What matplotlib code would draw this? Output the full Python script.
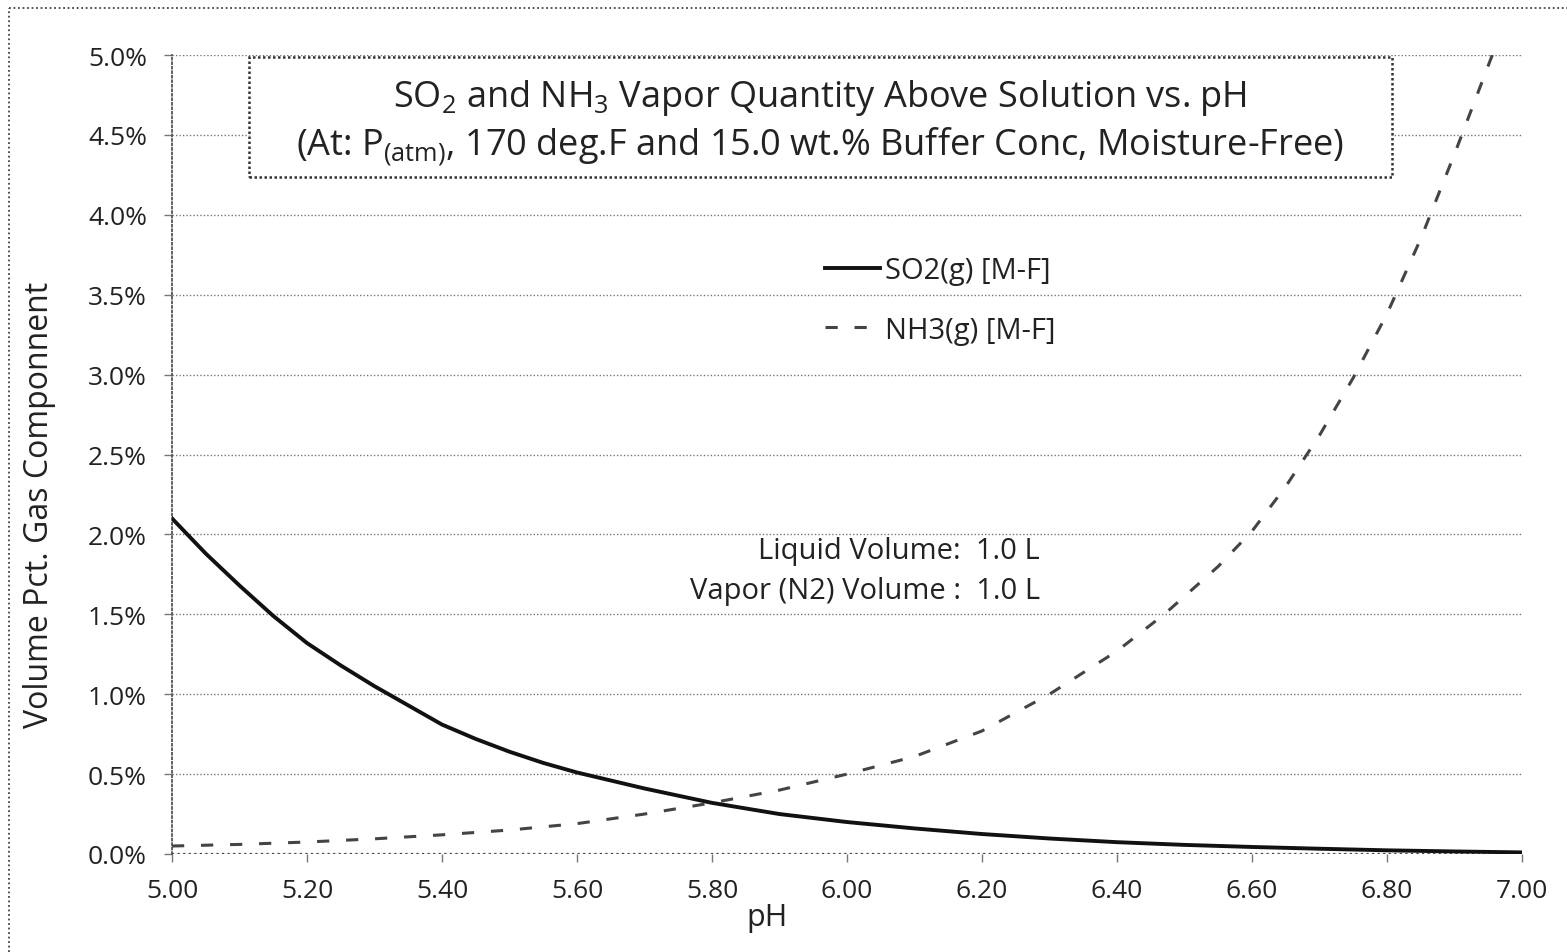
import matplotlib.pyplot as plt
from matplotlib.lines import Line2D
from matplotlib.patches import Rectangle
from matplotlib.ticker import FuncFormatter

plt.rcParams['font.family'] = ['Open Sans', 'DejaVu Sans']
plt.rcParams['mathtext.fontset'] = 'custom'
plt.rcParams['mathtext.rm'] = 'Open Sans'
plt.rcParams['mathtext.it'] = 'Open Sans:italic'

# SO2 vapor (vol %) vs pH
ph_so2 = [5.00, 5.05, 5.10, 5.15, 5.20, 5.25, 5.30, 5.35, 5.40, 5.45, 5.50, 5.55,
          5.60, 5.65, 5.70, 5.80, 5.90, 6.00, 6.10, 6.20, 6.30, 6.40, 6.50, 6.60,
          6.70, 6.80, 6.90, 7.00]
so2 = [2.10, 1.88, 1.68, 1.49, 1.32, 1.18, 1.05, 0.93, 0.81, 0.72, 0.64, 0.57,
       0.51, 0.46, 0.41, 0.32, 0.25, 0.20, 0.16, 0.125, 0.097, 0.074, 0.057, 0.044,
       0.033, 0.023, 0.016, 0.01]

# NH3 vapor (vol %) vs pH
ph_nh3 = [5.00, 5.10, 5.20, 5.30, 5.40, 5.50, 5.60, 5.70, 5.80, 5.90, 6.00, 6.10,
          6.20, 6.30, 6.40, 6.47, 6.55, 6.60, 6.65, 6.70, 6.75, 6.80, 6.85, 6.90,
          6.956]
nh3 = [0.05, 0.06, 0.075, 0.095, 0.12, 0.15, 0.19, 0.25, 0.32, 0.40, 0.50, 0.61,
       0.77, 1.00, 1.27, 1.50, 1.80, 2.02, 2.30, 2.62, 2.98, 3.38, 3.85, 4.38,
       5.00]

xticks = [5.00, 5.20, 5.40, 5.60, 5.80, 6.00, 6.20, 6.40, 6.60, 6.80, 7.00]
yticks = [0.0, 0.5, 1.0, 1.5, 2.0, 2.5, 3.0, 3.5, 4.0, 4.5, 5.0]

txt = '#222222'
W, H = 1567, 953
fig = plt.figure(figsize=(W / 100, H / 100), dpi=100)
ax = fig.add_axes([172 / W, 1 - 855 / H, 1350 / W, 799 / H])

ax.plot(ph_so2, so2, color='#111111', lw=2.8, label='SO2(g) [M-F]', zorder=3)
ax.plot(ph_nh3, nh3, color='#444444', lw=2.2, ls=(0, (4, 5.5)),
        label='NH3(g) [M-F]', zorder=3)

ax.set_xlim(5.0, 7.0)
ax.set_ylim(0, 5.0)
ax.set_xticks(xticks)
ax.set_yticks(yticks)
ax.xaxis.set_major_formatter(FuncFormatter(lambda v, p: f'{v:.2f}'))
ax.yaxis.set_major_formatter(FuncFormatter(lambda v, p: f'{v:.1f}%'))
ax.tick_params(axis='both', labelsize=19, labelcolor=txt, color='#777777',
               width=1, length=6)
ax.tick_params(axis='x', pad=11)
ax.tick_params(axis='y', pad=12)
for t in ax.xaxis.get_ticklines() + ax.yaxis.get_ticklines():
    t.set_linestyle(':')
ax.grid(axis='y', ls=(0, (1, 1.5)), color='#777777', lw=1)

for s in ['top', 'right', 'bottom']:
    ax.spines[s].set_visible(False)
ax.spines['left'].set_linestyle((0, (1, 1.5)))
ax.spines['left'].set_color('#555555')
ax.spines['left'].set_linewidth(1.3)
ax.axhline(0, color='#444444', ls=(0, (1, 1.5)), lw=1.6, zorder=1)

ax.set_xlabel('pH', fontsize=22, color=txt, va='center')
ax.xaxis.set_label_coords((767 - 172) / 1350, (855 - 918) / 799)
ax.set_ylabel('Volume Pct. Gas Componnent', fontsize=23, color=txt, va='center')
ax.yaxis.set_label_coords((40 - 172) / 1350, (855 - 505) / 799)

# title box
fig.patches.append(Rectangle((249 / W, 1 - 178 / H), 1143 / W, 120 / H,
                             transform=fig.transFigure, fc='white', ec='#333333',
                             lw=1.8, ls=(0, (1, 1)), zorder=5))
fig.text(820 / W, 1 - 98 / H,
         r'SO$_\mathrm{2}$ and NH$_\mathrm{3}$ Vapor Quantity Above Solution vs. pH',
         ha='center', va='center', fontsize=26, color=txt, zorder=6)
fig.text(820 / W, 1 - 147 / H,
         r'(At: P$_\mathrm{(atm)}$, 170 deg.F and 15.0 wt.% Buffer Conc, Moisture-Free)',
         ha='center', va='center', fontsize=26, color=txt, zorder=6)

ax.legend(loc='upper left', bbox_to_anchor=(825 / W, 1 - 257 / H),
          bbox_transform=fig.transFigure, frameon=False, fontsize=21,
          handlelength=1.9, handletextpad=0.17, labelspacing=1.05,
          borderpad=0, borderaxespad=0, labelcolor=txt)

ax.text(6.286, (855 - 551) / 159.8, 'Liquid Volume:  1.0 L',
        ha='right', va='center', fontsize=21, color=txt)
ax.text(6.286, (855 - 592) / 159.8, 'Vapor (N2) Volume :  1.0 L',
        ha='right', va='center', fontsize=21, color=txt)

# dotted outer frame (top and left visible)
fig.lines.append(Line2D([9 / W, 1.0], [1 - 9 / H, 1 - 9 / H], transform=fig.transFigure,
                        color='#444444', ls=(0, (1, 1.5)), lw=1.3))
fig.lines.append(Line2D([9 / W, 9 / W], [0.0, 1 - 9 / H], transform=fig.transFigure,
                        color='#444444', ls=(0, (1, 1.5)), lw=1.3))

fig.savefig('out.png', dpi=100)
